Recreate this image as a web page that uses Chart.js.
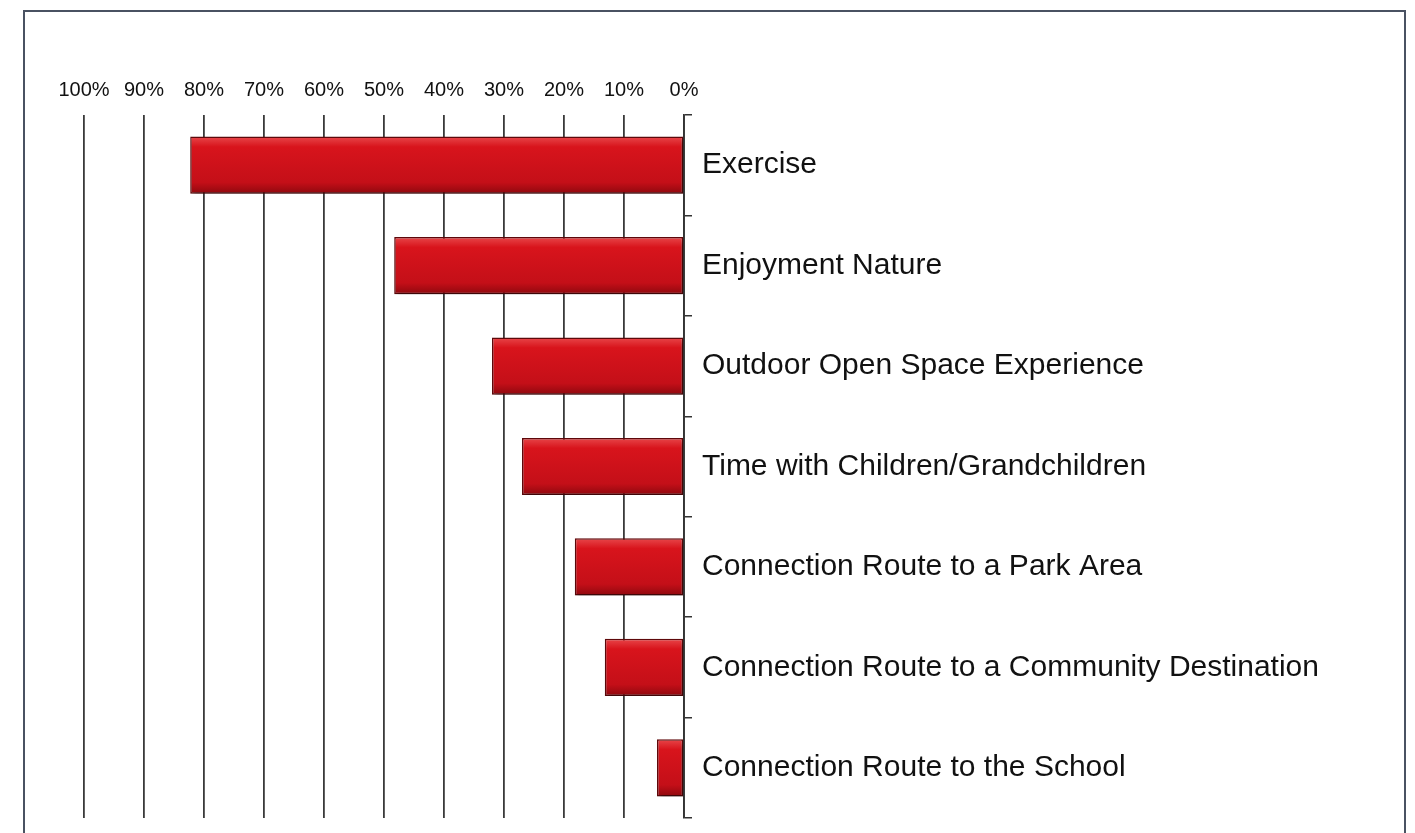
<!DOCTYPE html>
<html>
<head>
<meta charset="utf-8">
<script src="https://cdn.jsdelivr.net/npm/chart.js@4/dist/chart.umd.min.js"></script>
<style>
  html, body { margin: 0; padding: 0; background: #fff; }
  body { width: 1415px; height: 833px; position: relative; overflow: hidden; }
  #frame { position: absolute; left: 23px; top: 10px; width: 1383px; height: 900px;
           border: 2px solid #4a5262; box-sizing: border-box; }
  #wrap { position: absolute; left: 0; top: 0; width: 1415px; height: 833px; }
</style>
</head>
<body>
<div id="frame"></div>
<div id="wrap"><canvas id="mainChart"></canvas></div>
<script>
// Categorías y valores (%)
const categories = [
    'Exercise',
    'Enjoyment Nature',
    'Outdoor Open Space Experience',
    'Time with Children/Grandchildren',
    'Connection Route to a Park Area',
    'Connection Route to a Community Destination',
    'Connection Route to the School'
];
const values = [82.3, 48.3, 32, 27, 18.2, 13.2, 4.5];
const tickStep = 10;

// sombra + degradado de las barras
const barStyle = {
    id: 'barStyle',
    beforeDatasetsDraw(chart) {
        const c = chart.ctx;
        c.save();
        c.shadowColor = 'rgba(0,0,0,0.35)';
        c.shadowOffsetX = 2;
        c.shadowOffsetY = 4;
        c.shadowBlur = 4;
        chart.getDatasetMeta(0).data.forEach(bar => {
            const top = bar.y - bar.height / 2;
            const g = c.createLinearGradient(0, top, 0, top + bar.height);
            g.addColorStop(0, '#e8474a');
            g.addColorStop(0.18, '#d8141c');
            g.addColorStop(0.8, '#c40f18');
            g.addColorStop(1, '#8e080e');
            bar.options = Object.assign({}, bar.options, { backgroundColor: g });
        });
    },
    afterDatasetsDraw(chart) {
        chart.ctx.restore();
    }
};

const ctx = document.getElementById('mainChart').getContext('2d');
new Chart(ctx, {
    type: 'bar',
    data: {
        labels: categories,
        datasets: [{
            data: values,
            backgroundColor: '#d01820',
            borderColor: '#5e080a',
            borderWidth: 1.5,
            borderSkipped: false,
            barPercentage: 0.57,
            categoryPercentage: 1
        }]
    },
    options: {
        indexAxis: 'y',
        responsive: true,
        maintainAspectRatio: false,
        animation: false,
        layout: { padding: { left: 84, top: 0, bottom: 15, right: 0 } },
        plugins: { legend: { display: false }, tooltip: { enabled: false } },
        scales: {
            x: {
                position: 'top',
                reverse: true,
                min: 0,
                max: 100,
                ticks: {
                    stepSize: tickStep,
                    callback: v => v + '%',
                    color: '#111',
                    font: { family: 'Liberation Sans, Arial, sans-serif', size: 20 },
                    padding: 13,
                    maxRotation: 0
                },
                grid: { color: '#3a3a3a', lineWidth: 1.8, drawTicks: false },
                border: { display: false },
                afterFit(scale) { scale.height = 115; }
            },
            y: {
                position: 'right',
                ticks: {
                    color: '#111',
                    font: { family: 'Liberation Sans, Arial, sans-serif', size: 30 },
                    padding: 10
                },
                grid: { drawOnChartArea: false, drawTicks: true, tickLength: 8, color: '#333', lineWidth: 1.5 },
                border: { display: true, color: '#333', width: 1.8 },
                afterFit(scale) {
                    scale.width = 731;
                    scale.paddingTop = 0;
                    scale.paddingBottom = 0;
                }
            }
        }
    },
    plugins: [barStyle]
});
</script>
</body>
</html>
